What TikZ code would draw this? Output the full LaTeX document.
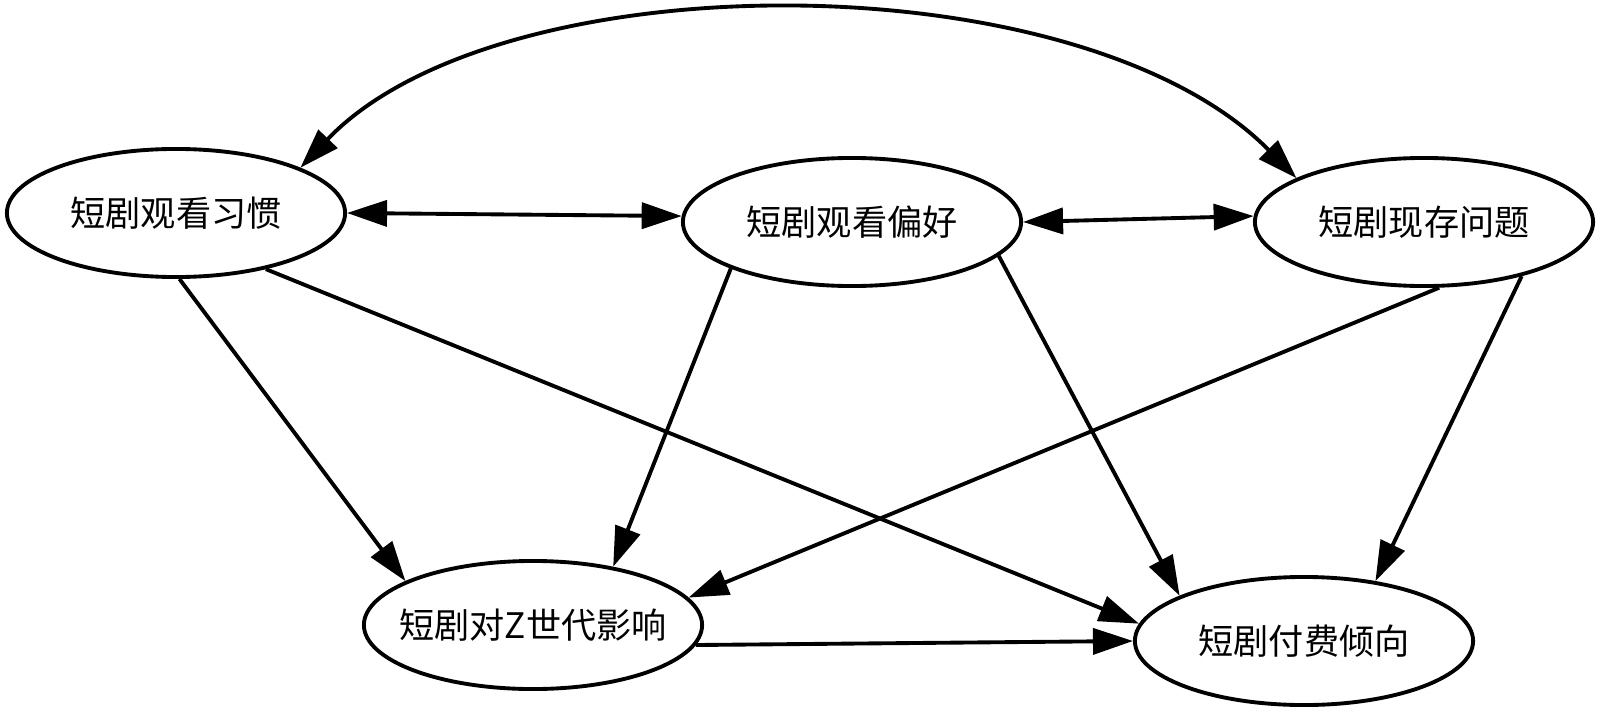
\documentclass[tikz,border=0pt]{standalone}
\usepackage{fontspec}
\setmainfont{Noto Sans CJK SC}
\usetikzlibrary{arrows.meta,shapes.geometric}

\begin{document}
\begin{tikzpicture}[x=0.01cm,y=-0.01cm,
    tema/.style={draw,ellipse,line width=1.1pt,minimum width=3.38cm,
      minimum height=1.28cm,inner xsep=-0.4cm,inner ysep=-0.2cm,
      font=\fontsize{10}{12}\selectfont},
    flecha/.style={line width=1.1pt,-{Triangle[length=0.4cm,width=0.26cm]}},
    doble/.style={line width=1.1pt,
      {Triangle[length=0.4cm,width=0.26cm]}-{Triangle[length=0.4cm,width=0.26cm]}}]
    \useasboundingbox (0,0) rectangle (1600,715);

    \node[tema] (xiguan) at (176,213) {短剧观看习惯};
    \node[tema] (pianhao) at (852,222) {短剧观看偏好};
    \node[tema] (wenti) at (1424,222) {短剧现存问题};
    \node[tema] (yingxiang) at (533,625) {短剧对Z世代影响};
    \node[tema] (fufei) at (1304,641) {短剧付费倾向};

    % arriba
    \draw[doble] (xiguan.east) -- (pianhao.178);
    \draw[doble] (pianhao.east) -- (wenti.178);
    \draw[doble] (xiguan.20) .. controls (500,-41) and (1080,-41) .. (wenti.161);

    % hacia abajo
    \draw[flecha] (xiguan.-87) -- (yingxiang.161);
    \draw[flecha] (xiguan.-32) -- (fufei.174);
    \draw[flecha] (pianhao.201) -- (yingxiang.36);
    \draw[flecha] (pianhao.-13) -- (fufei.160);
    \draw[flecha] (wenti.-77) -- (yingxiang.10);
    \draw[flecha] (wenti.-29) -- (fufei.40);
    \draw[flecha] (yingxiang.-7) -- (fufei.180);
  \end{tikzpicture}
\end{document}
